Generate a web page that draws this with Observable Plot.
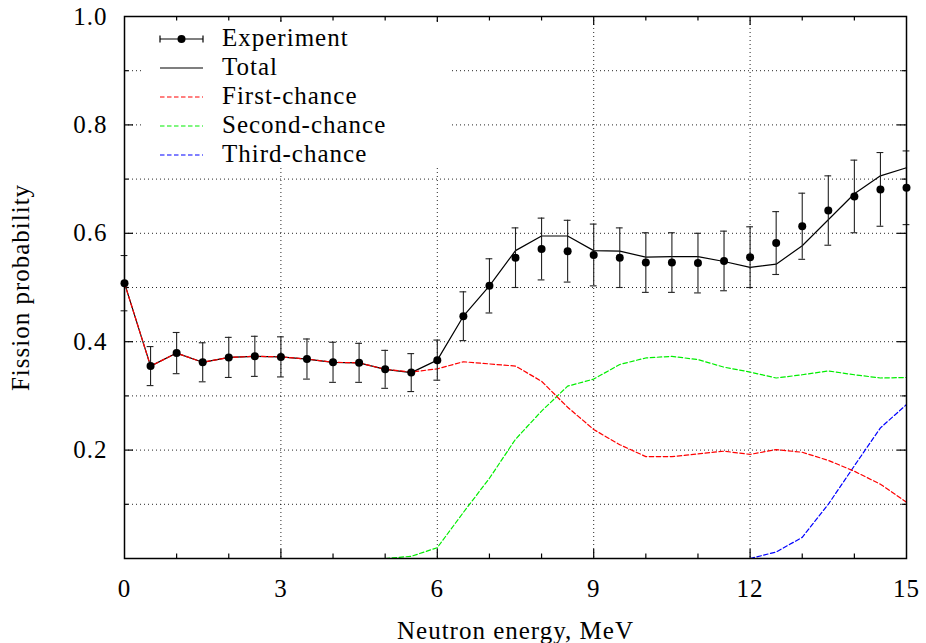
<!DOCTYPE html>
<html><head><meta charset="utf-8">
<script src="https://cdn.jsdelivr.net/npm/d3@7"></script>
<script src="https://cdn.jsdelivr.net/npm/@observablehq/plot@0.6"></script>
<style>
body{margin:0;background:#fff;}
#chart{width:926px;height:643px;overflow:hidden;}
#chart svg text{font-family:"Liberation Serif","Times New Roman",serif !important;font-size:25px;letter-spacing:1px;}
</style></head><body><div id="chart"></div>
<script>
// ---- data ----
const energy = [0,0.5,1,1.5,2,2.5,3,3.5,4,4.5,5,5.5,6,6.5,7,7.5,8,8.5,9,9.5,10,10.5,11,11.5,12,12.5,13,13.5,14,14.5,15];
const experiment = [0.508,0.355,0.379,0.362,0.371,0.373,0.372,0.368,0.362,0.361,0.349,0.343,0.366,0.447,0.503,0.555,0.571,0.567,0.560,0.555,0.546,0.546,0.545,0.549,0.556,0.582,0.613,0.642,0.668,0.681,0.684];
const experimentError = [0.051,0.036,0.038,0.036,0.037,0.037,0.037,0.037,0.037,0.036,0.035,0.035,0.037,0.045,0.050,0.055,0.057,0.057,0.057,0.055,0.055,0.055,0.055,0.055,0.056,0.058,0.061,0.064,0.067,0.068,0.068];
const total = [0.508,0.355,0.379,0.362,0.371,0.373,0.372,0.368,0.362,0.361,0.349,0.343,0.366,0.447,0.503,0.568,0.595,0.595,0.568,0.567,0.556,0.557,0.557,0.548,0.537,0.543,0.577,0.625,0.673,0.706,0.721];
const firstChance = [0.508,0.355,0.379,0.362,0.371,0.373,0.372,0.368,0.362,0.361,0.349,0.344,0.350,0.363,0.359,0.355,0.327,0.279,0.238,0.210,0.188,0.188,0.193,0.198,0.192,0.201,0.196,0.181,0.161,0.137,0.104];
const secondEnergy = [5,5.5,6,6.5,7,7.5,8,8.5,9,9.5,10,10.5,11,11.5,12,12.5,13,13.5,14,14.5,15];
const secondChance = [0,0.004,0.020,0.085,0.148,0.220,0.272,0.318,0.331,0.358,0.370,0.373,0.367,0.353,0.344,0.333,0.339,0.346,0.339,0.333,0.334];
const thirdEnergy = [12,12.5,13,13.5,14,14.5,15];
const thirdChance = [0,0.012,0.039,0.100,0.171,0.241,0.284];

const xTickLabels = [0,3,6,9,12,15];
const xMajorInner = [3,6,9,12];
const xMinor = [1,2,4,5,7,8,10,11,13,14];
const yTickLabels = [0.2,0.4,0.6,0.8,1.0];
const yMajorInner = [0.2,0.4,0.6,0.8];
const yMinor = [0.1,0.3,0.5,0.7,0.9];
const xGrid = [3,6,9,12];
const yGrid = [0.1,0.2,0.3,0.4,0.5,0.6,0.7,0.8,0.9];
const legendLabels = ["Experiment","Total","First-chance","Second-chance","Third-chance"];
const legendColors = ["#000000","#000000","#ff0000","#00ee00","#0000ff"];
const xTitle = "Neutron energy, MeV";
const yTitle = "Fission probability";

// ---- layout ----
const W = 926, H = 643, mL = 124, mR = 20, mT = 16, mB = 85;
const iw = W - mL - mR, ih = H - mT - mB;
const major = 9, minor = 4.5;
const dash = "4.5,2.5";

const expData = energy.map((x, i) => ({x, y: experiment[i], e: experimentError[i]}));
const totData = energy.map((x, i) => ({x, y: total[i]}));
const firstData = energy.map((x, i) => ({x, y: firstChance[i]}));
const secondData = secondEnergy.map((x, i) => ({x, y: secondChance[i]}));
const thirdData = thirdEnergy.map((x, i) => ({x, y: thirdChance[i]}));

const gridStyle = {stroke: "#000", strokeWidth: 1, strokeDasharray: "1,3", strokeOpacity: 0.85};
const tickStyle = {stroke: "#000", strokeWidth: 1.2};

const plot = Plot.plot({
  width: W, height: H,
  marginLeft: mL, marginRight: mR, marginTop: mT, marginBottom: mB,
  style: {fontFamily: "Liberation Serif, serif", fontSize: "25px", background: "#fff", color: "#000"},
  x: {domain: [0, 15]},
  y: {domain: [0, 1]},
  marks: [
    Plot.ruleY(yGrid, gridStyle),
    Plot.ruleX(xGrid, gridStyle),
    // inward ticks, all four sides
    Plot.ruleX(xMajorInner, {...tickStyle, insetTop: ih - major}),
    Plot.ruleX(xMajorInner, {...tickStyle, insetBottom: ih - major}),
    Plot.ruleX(xMinor, {...tickStyle, insetTop: ih - minor}),
    Plot.ruleX(xMinor, {...tickStyle, insetBottom: ih - minor}),
    Plot.ruleY(yMajorInner, {...tickStyle, insetRight: iw - major}),
    Plot.ruleY(yMajorInner, {...tickStyle, insetLeft: iw - major}),
    Plot.ruleY(yMinor, {...tickStyle, insetRight: iw - minor}),
    Plot.ruleY(yMinor, {...tickStyle, insetLeft: iw - minor}),
    Plot.axisX(xTickLabels, {tickSize: 0, tickPadding: 21, label: null}),
    Plot.axisY(yTickLabels, {tickSize: 0, tickPadding: 17, tickFormat: d3.format(".1f"), label: null}),
    Plot.text([xTitle], {frameAnchor: "bottom", dy: 80, lineAnchor: "bottom", textAnchor: "middle"}),
    Plot.text([yTitle], {frameAnchor: "left", dx: -96, rotate: -90, lineAnchor: "bottom", textAnchor: "middle"}),
    // model curves
    Plot.line(secondData, {x: "x", y: "y", stroke: legendColors[3], strokeWidth: 1.2, strokeDasharray: dash}),
    Plot.line(thirdData, {x: "x", y: "y", stroke: legendColors[4], strokeWidth: 1.2, strokeDasharray: dash}),
    Plot.line(totData, {x: "x", y: "y", stroke: legendColors[1], strokeWidth: 1.2}),
    Plot.line(firstData, {x: "x", y: "y", stroke: legendColors[2], strokeWidth: 1.2, strokeDasharray: dash}),
    // experiment with error bars
    Plot.ruleX(expData, {x: "x", y1: d => d.y - d.e, y2: d => d.y + d.e, stroke: "#222", strokeWidth: 1.1}),
    Plot.ruleY(expData, {y: d => d.y + d.e, x1: d => d.x - 0.065, x2: d => d.x + 0.065, stroke: "#222", strokeWidth: 1.1}),
    Plot.ruleY(expData, {y: d => d.y - d.e, x1: d => d.x - 0.065, x2: d => d.x + 0.065, stroke: "#222", strokeWidth: 1.1}),
    Plot.dot(expData, {x: "x", y: "y", r: 4, fill: "#000", stroke: "none"}),
    Plot.frame({stroke: "#000", strokeWidth: 1.5})
  ]
});

// ---- legend (opaque key box, top-left inside the frame) ----
const svg = d3.select(plot);
const g = svg.append("g").attr("text-anchor", "start");
g.append("rect").attr("x", mL + 19).attr("y", mT + 6).attr("width", 307).attr("height", 146).attr("fill", "#fff");
const sx0 = 160, sx1 = 203, tx = 222, row0 = 39, rowH = 29;
legendLabels.forEach((label, i) => {
  const y = row0 + i * rowH;
  if (i === 0) {
    g.append("line").attr("x1", sx0).attr("x2", sx1).attr("y1", y).attr("y2", y).attr("stroke", "#000").attr("stroke-width", 1.2);
    g.append("line").attr("x1", sx0).attr("x2", sx0).attr("y1", y - 3.5).attr("y2", y + 3.5).attr("stroke", "#000").attr("stroke-width", 1.2);
    g.append("line").attr("x1", sx1).attr("x2", sx1).attr("y1", y - 3.5).attr("y2", y + 3.5).attr("stroke", "#000").attr("stroke-width", 1.2);
    g.append("circle").attr("cx", (sx0 + sx1) / 2).attr("cy", y).attr("r", 4).attr("fill", "#000");
  } else {
    const ln = g.append("line").attr("x1", sx0).attr("x2", sx1).attr("y1", y).attr("y2", y)
      .attr("stroke", legendColors[i]).attr("stroke-width", 1.2);
    if (i > 1) ln.attr("stroke-dasharray", dash);
  }
  g.append("text").attr("x", tx).attr("y", y + 7).attr("fill", "#000").attr("text-anchor", "start").text(label);
});

document.getElementById("chart").appendChild(plot);
</script></body></html>
